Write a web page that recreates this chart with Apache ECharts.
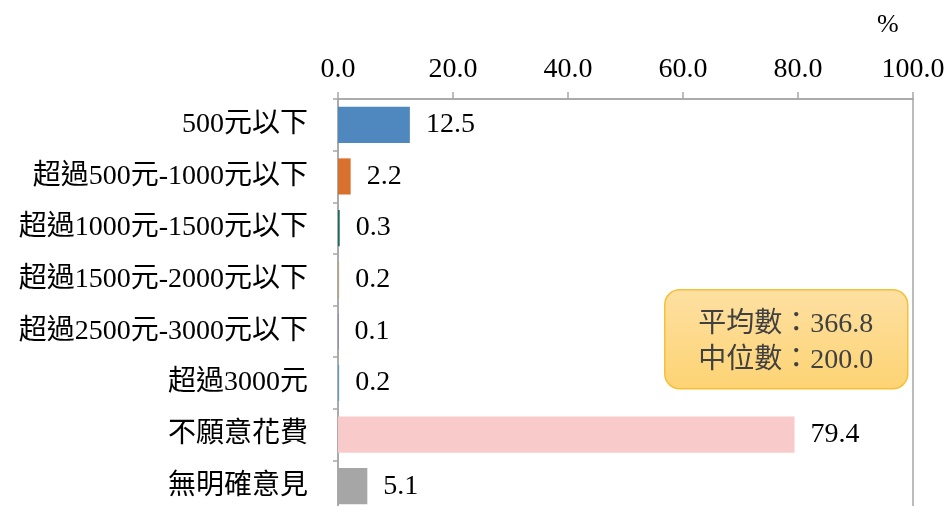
<!DOCTYPE html>
<html>
<head>
<meta charset="utf-8">
<script src="https://cdn.jsdelivr.net/npm/echarts@6/dist/echarts.min.js"></script>
<style>html,body{margin:0;padding:0;background:#fff}#c{width:947px;height:506px}</style>
</head>
<body>
<div id="c"></div>
<script>
const categories = ['500元以下','超過500元-1000元以下','超過1000元-1500元以下','超過1500元-2000元以下','超過2500元-3000元以下','超過3000元','不願意花費','無明確意見'];
const values = [12.5, 2.2, 0.3, 0.2, 0.1, 0.2, 79.4, 5.1];
const barColors = ['#4f88bf','#d8702e','#1c6b5f','#b5a684','#8a7bb0','#5aa0c8','#f8cbca','#a6a6a6'];
const statLines = ['平均數：366.8','中位數：200.0'];
const unitLabel = '%';

const serif = '"Liberation Serif","Noto Sans CJK TC",serif';
const chart = echarts.init(document.getElementById('c'));
chart.setOption({
  animation: false,
  grid: { left: 338, top: 99, width: 575, height: 413, outerBoundsMode: 'none', containLabel: false,
          show: true, borderColor: '#a6a6a6', borderWidth: 1.5, backgroundColor: 'transparent' },
  xAxis: {
    type: 'value', position: 'top', min: 0, max: 100, interval: 20,
    axisLine: { show: true, lineStyle: { color: '#a6a6a6', width: 1.5 } },
    axisTick: { show: true, length: 7, lineStyle: { color: '#a6a6a6', width: 1.5 } },
    splitLine: { show: false },
    axisLabel: { formatter: v => v.toFixed(1), fontFamily: serif, fontSize: 28, color: '#000', margin: 15, hideOverlap: false }
  },
  yAxis: {
    type: 'category', inverse: true, data: categories,
    axisLine: { show: true, lineStyle: { color: '#a6a6a6', width: 1.5 } },
    axisTick: { show: true, length: 5, lineStyle: { color: '#a6a6a6', width: 1.5 } },
    axisLabel: { fontFamily: serif, fontSize: 28, color: '#000', margin: 30, interval: 0, padding: [4, 0, 0, 0] }
  },
  series: [{
    type: 'bar', barCategoryGap: '30%',
    data: values.map((v, i) => ({ value: v, itemStyle: { color: barColors[i] } })),
    label: { show: true, position: 'right', distance: 16, formatter: p => p.value.toFixed(1), fontFamily: serif, fontSize: 28, color: '#000' }
  }],
  graphic: [
    { type: 'text', left: 877, top: 12, style: { text: unitLabel, font: '26px ' + serif, fill: '#000' } },
    { type: 'group', left: 664, top: 289, children: [
      { type: 'rect', shape: { x: 0, y: 0, width: 243, height: 99, r: 15 },
        style: { fill: new echarts.graphic.LinearGradient(0, 0, 0, 1, [{ offset: 0, color: '#fde0a2' }, { offset: 1, color: '#fdd373' }]), stroke: '#f6c03a', lineWidth: 1.5 } },
      { type: 'text', x: 121, y: 35, style: { text: statLines[0], font: '28px ' + serif, fill: '#404040', align: 'center', verticalAlign: 'middle' } },
      { type: 'text', x: 121, y: 71, style: { text: statLines[1], font: '28px ' + serif, fill: '#404040', align: 'center', verticalAlign: 'middle' } }
    ]}
  ]
});
</script>
</body>
</html>
